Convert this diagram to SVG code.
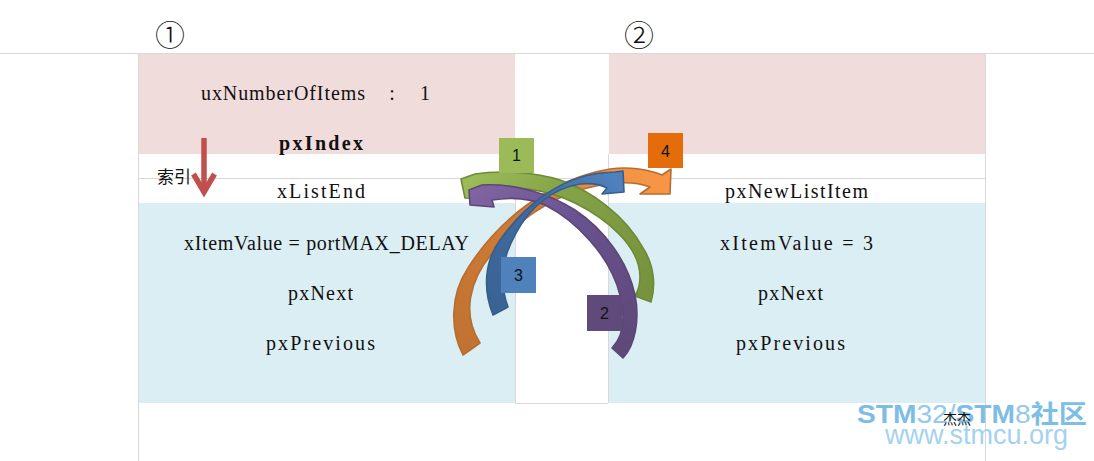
<svg xmlns="http://www.w3.org/2000/svg" width="1094" height="461" viewBox="0 0 1094 461">
<style>
.mono{font-family:"Liberation Serif","Times New Roman",serif;font-size:20px;fill:#111;white-space:pre}
.grid{stroke:#D9D9D9;stroke-width:1;fill:none}
.num{font-family:"Liberation Sans",Arial,sans-serif;font-size:16px;fill:#111;text-anchor:middle}
.circ{font-family:"Noto Sans CJK SC","Noto Sans CJK JP",sans-serif;font-size:30px;fill:#111;font-weight:300}
.arrow{stroke-width:1.6;stroke-linejoin:round}
</style>
<defs>
<linearGradient id="gOrange" gradientUnits="userSpaceOnUse" x1="470" y1="350" x2="668" y2="182">
<stop offset="0" stop-color="#C27331"/><stop offset="0.6" stop-color="#D27E38"/><stop offset="0.85" stop-color="#F29244"/><stop offset="1" stop-color="#F79646"/>
</linearGradient>
<linearGradient id="gGreen" gradientUnits="userSpaceOnUse" x1="644" y1="300" x2="465" y2="188">
<stop offset="0" stop-color="#76923C"/><stop offset="0.6" stop-color="#84A347"/><stop offset="1" stop-color="#9BBB59"/>
</linearGradient>
<linearGradient id="gPurple" gradientUnits="userSpaceOnUse" x1="618" y1="354" x2="470" y2="198">
<stop offset="0" stop-color="#5E4979"/><stop offset="0.6" stop-color="#6A5290"/><stop offset="1" stop-color="#8064A2"/>
</linearGradient>
<linearGradient id="gBlue" gradientUnits="userSpaceOnUse" x1="500" y1="311" x2="620" y2="183">
<stop offset="0" stop-color="#3A6395"/><stop offset="0.6" stop-color="#406DA2"/><stop offset="1" stop-color="#4F81BD"/>
</linearGradient>
</defs>

<rect width="1094" height="461" fill="#FFFFFF"/>

<g id="frame">
<line class="grid" x1="0" y1="53.5" x2="1094" y2="53.5"/>
<line class="grid" x1="138.5" y1="53" x2="138.5" y2="461"/>
<line class="grid" x1="985.5" y1="53" x2="985.5" y2="461"/>
<line class="grid" x1="515.5" y1="154" x2="515.5" y2="403"/>
<line class="grid" x1="608.5" y1="154" x2="608.5" y2="403"/>
<line class="grid" x1="515" y1="403.5" x2="608" y2="403.5"/>
<line class="grid" x1="138" y1="178.5" x2="985" y2="178.5"/>
</g>

<g id="list1">
<rect x="139" y="54" width="376" height="100" fill="#F0DCDB"/>
<rect x="139" y="203" width="376" height="200" fill="#DBEEF3"/>
<text class="circ" x="155" y="46">①</text>
<text class="mono" x="201" y="100" textLength="164" lengthAdjust="spacing">uxNumberOfItems</text>
<text class="mono" x="392" y="100" text-anchor="middle">:</text>
<text class="mono" x="425" y="100" text-anchor="middle">1</text>
<text class="mono" x="279" y="150" font-weight="bold" textLength="84" lengthAdjust="spacing">pxIndex</text>
<text class="mono" x="277" y="198" textLength="88" lengthAdjust="spacing">xListEnd</text>
<text class="mono" x="184" y="250" textLength="285" lengthAdjust="spacing">xItemValue = portMAX_DELAY</text>
<text class="mono" x="288" y="300" textLength="65" lengthAdjust="spacing">pxNext</text>
<text class="mono" x="266" y="350" textLength="109" lengthAdjust="spacing">pxPrevious</text>
</g>

<g id="list2">
<rect x="609" y="54" width="376" height="100" fill="#F0DCDB"/>
<rect x="609" y="203" width="376" height="200" fill="#DBEEF3"/>
<text class="circ" x="624" y="46">②</text>
<text class="mono" x="725" y="198" textLength="143" lengthAdjust="spacing">pxNewListItem</text>
<text class="mono" x="720" y="250" textLength="153" lengthAdjust="spacing">xItemValue = 3</text>
<text class="mono" x="758" y="300" textLength="65" lengthAdjust="spacing">pxNext</text>
<text class="mono" x="736" y="350" textLength="109" lengthAdjust="spacing">pxPrevious</text>
</g>

<g id="index-pointer">
<text x="157" y="183" font-family="Noto Sans CJK SC, sans-serif" font-size="17" fill="#111">索引</text>
<line x1="204" y1="138" x2="204" y2="190" stroke="#C0504D" stroke-width="5.5"/>
<polyline points="193.5,174 204,192 214.5,174" fill="none" stroke="#C0504D" stroke-width="5.5" stroke-linejoin="miter" stroke-linecap="butt"/>
</g>

<g id="connectors">
<path id="arrow4" class="arrow" fill="url(#gOrange)" stroke="#B66D31" d="M463,355 C450,330 450,295 468,268 C495,225 545,180 610,169 C630,166 650,170 662,175 L671,169 L670,194 L640,194 L650,187 C640,183 630,182 615,183 C565,188 520,215 495,250 C468,280 462,315 480,343 Z"/>
<path id="arrow1" class="arrow" fill="url(#gGreen)" stroke="#6E8A38" d="M475,174 L461,179 L465,198 L489,199 L487,191 C510,185 545,188 575,203 C605,218 640,245 640,277 C640,285 638,291 635,296 L651,302 C656,285 654,265 643,248 C625,215 590,190 560,180 C535,172 500,170 475,174 Z"/>
<path id="arrow2" class="arrow" fill="url(#gPurple)" stroke="#5C4776" d="M482,185 L469,190 L470,205 L494,207 L492,200 C505,198 525,196 545,205 C575,220 610,255 620,295 C626,320 622,338 612,348 L623,358 C635,345 640,320 635,295 C628,262 605,230 575,210 C550,194 515,183 482,185 Z"/>
<path id="arrow3" class="arrow" fill="url(#gBlue)" stroke="#385D8A" d="M493,315 C483,290 484,262 500,240 C525,205 560,178 600,173 L615,172 L623,171 L624,192 L602,194 L607,188 C600,184 590,183 580,184 C555,188 530,205 515,235 C500,262 500,285 508,307 Z"/>
</g>

<g id="step1"><rect x="499" y="138" width="35" height="35" fill="#9BBB59"/><text class="num" x="516.5" y="161">1</text></g>
<g id="step2"><rect x="587" y="295" width="35" height="36" fill="#604A7B"/><text class="num" x="604.5" y="319">2</text></g>
<g id="step3"><rect x="501" y="257" width="35" height="36" fill="#4F81BD"/><text class="num" x="518.5" y="281">3</text></g>
<g id="step4"><rect x="648" y="133" width="35" height="35" fill="#E46C0A"/><text class="num" x="665.5" y="157">4</text></g>

<g id="watermark">
<text x="857" y="423" font-family="Liberation Sans, Arial, Noto Sans CJK SC, sans-serif" font-size="25" textLength="230" lengthAdjust="spacingAndGlyphs"><tspan fill="#7DBDE6" font-weight="bold">STM</tspan><tspan fill="#93C9EC">32/</tspan><tspan fill="#7DBDE6" font-weight="bold">STM</tspan><tspan fill="#93C9EC">8</tspan><tspan fill="#7DBDE6" font-weight="bold">社区</tspan></text>
<text x="885" y="444" font-family="Liberation Sans, Arial, sans-serif" font-size="27" fill="#A5D2EF">www.stmcu.org</text>
<text x="943" y="424" font-family="Noto Sans CJK SC, sans-serif" font-size="14" fill="#111">杰杰</text>
</g>
</svg>
